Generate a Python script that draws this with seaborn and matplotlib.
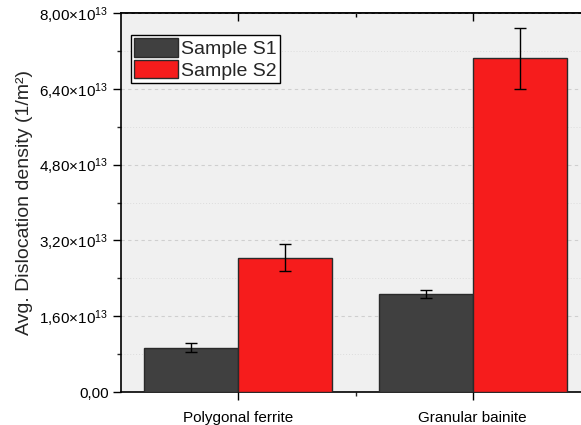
import matplotlib
matplotlib.use("Agg")
import matplotlib.pyplot as plt
from matplotlib.ticker import FixedLocator, MultipleLocator
from matplotlib.patches import Patch
import seaborn as sns
import pandas as pd

categories = ["Polygonal ferrite", "Granular bainite"]
samples = ["Sample S1", "Sample S2"]
s1_values = [0.935e13, 2.07e13]
s2_values = [2.835e13, 7.04e13]
s1_err = [0.09e13, 0.09e13]
s2_err = [0.285e13, 0.65e13]
y_ticks = [0, 1.6e13, 3.2e13, 4.8e13, 6.4e13, 8.0e13]
y_labels = ["0,00", "1,60×10$^{13}$", "3,20×10$^{13}$", "4,80×10$^{13}$",
            "6,40×10$^{13}$", "8,00×10$^{13}$"]

colors = {"Sample S1": "#404040", "Sample S2": "#f61c1c"}

sns.set_style("ticks")
plt.rcParams["font.family"] = ["Liberation Sans", "DejaVu Sans"]
plt.rcParams["mathtext.fontset"] = "custom"
plt.rcParams["mathtext.rm"] = "Liberation Sans"
plt.rcParams["mathtext.it"] = "Liberation Sans:italic"
plt.rcParams["mathtext.bf"] = "Liberation Sans:bold"

df = pd.DataFrame({
    "category": categories * 2,
    "sample": [samples[0]] * 2 + [samples[1]] * 2,
    "value": s1_values + s2_values,
})

fig = plt.figure(figsize=(5.81, 4.25), dpi=100)
ax = fig.add_axes([121 / 581, (425 - 392) / 425, (590 - 121) / 581, (392 - 13) / 425])
ax.set_facecolor("#f0f0f0")

sns.barplot(data=df, x="category", y="value", hue="sample", order=categories,
            hue_order=samples, palette=colors, errorbar=None, width=0.8,
            edgecolor="#2a2a2a", linewidth=1.0, saturation=1, ax=ax, legend=False, zorder=3)

bars = list(ax.patches)
for i, p in enumerate(bars):
    if p.get_height() == 0:
        continue
    sample_idx = i // len(categories)
    cat_idx = i % len(categories)
    err = (s1_err if sample_idx == 0 else s2_err)[cat_idx]
    ax.errorbar(p.get_x() + p.get_width() / 2, p.get_height(), yerr=err,
                color="black", capsize=4, elinewidth=1, capthick=1, zorder=4)

ax.set_ylim(0, 8e13)
ax.set_xlim(-0.5, 1.5)
ax.yaxis.set_major_locator(FixedLocator(y_ticks))
ax.set_yticklabels(y_labels)
ax.yaxis.set_minor_locator(MultipleLocator(0.8e13))
ax.xaxis.set_minor_locator(FixedLocator([0.5]))

ax.grid(axis="y", which="major", color="#cfcfcf", linestyle=(0, (3, 3)), linewidth=0.8, zorder=0)
ax.grid(axis="y", which="minor", color="#dcdcdc", linestyle=(0, (1, 2)), linewidth=0.7, zorder=0)
ax.set_axisbelow(True)

for s in ax.spines.values():
    s.set_visible(True)
    s.set_color("black")
    s.set_linewidth(1.2)

ax.tick_params(axis="both", which="major", direction="out", length=6, width=1, colors="black")
ax.tick_params(axis="both", which="minor", direction="out", length=3, width=1)
ax.tick_params(axis="y", which="major", labelsize=11, pad=3)
ax.tick_params(axis="x", which="major", labelsize=11, pad=8)
ax.tick_params(axis="x", which="both", top=False)

top = ax.secondary_xaxis("top")
top.set_xticks([0, 1])
top.xaxis.set_minor_locator(FixedLocator([0.5]))
top.tick_params(axis="x", which="major", direction="in", length=6, width=1, labeltop=False, color="black")
top.tick_params(axis="x", which="minor", direction="in", length=3, width=1, color="black")
top.spines["top"].set_linewidth(1.2)

ax.set_xlabel("")
ax.set_ylabel("Avg. Dislocation density (1/m²)", fontsize=14, labelpad=5)

handles = [Patch(facecolor=colors[s], edgecolor="#2a2a2a", label=s) for s in samples]
leg = ax.legend(handles=handles, loc="upper left", bbox_to_anchor=(0.021, 0.942),
                fontsize=14, frameon=True, fancybox=False, edgecolor="black",
                handlelength=2.25, handleheight=1.1, handletextpad=0.2,
                borderpad=0.15, labelspacing=0.1, borderaxespad=0.0)
leg.get_frame().set_linewidth(1.0)
leg.get_frame().set_facecolor("white")
leg.get_frame().set_alpha(1)

fig.savefig("out.png", dpi=100)
